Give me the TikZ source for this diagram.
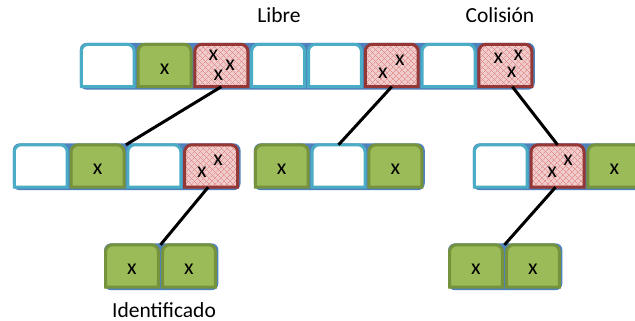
\documentclass[tikz,border=0pt]{standalone}
\usepackage{fontspec}
\setmainfont{Carlito}
\usetikzlibrary{calc,patterns.meta}
\definecolor{gfill}{HTML}{9BBB59}
\definecolor{gline}{HTML}{76923C}
\definecolor{wline}{HTML}{4BACC6}
\definecolor{rfill}{HTML}{F0CDCC}
\definecolor{rhatch}{HTML}{DC7674}
\definecolor{rline}{HTML}{953735}
\definecolor{barblue}{HTML}{4F81BD}
\pgfdeclarelayer{bg}\pgfdeclarelayer{cells}\pgfsetlayers{bg,cells,main}
\tikzset{
  cellnode/.style={rectangle, inner sep=0pt, minimum width=52.5pt, minimum height=42pt},
  xtxt/.style={font=\fontsize{22}{22}\selectfont, inner sep=0pt},
  lbl/.style={font=\fontsize{21.5}{24}\selectfont, anchor=base, inner sep=0pt},
  link/.style={line width=3pt, black},
  bar/.style={fill=barblue, rounded corners=7pt},
}
\newcommand\greencell[1]{\draw[line width=3pt, draw=gline, fill=gfill] (#1.south west) [rounded corners=7pt] -- (#1.north west) -- (#1.north east) [sharp corners] -- (#1.south east) -- cycle;}
\newcommand\whitecell[1]{\draw[line width=3pt, draw=wline, fill=white] (#1.south west) [rounded corners=7pt] -- (#1.north west) -- (#1.north east) [sharp corners] -- (#1.south east) -- cycle;}
\newcommand\redcell[1]{%
  \fill[rfill] (#1.south west) [rounded corners=7pt] -- (#1.north west) -- (#1.north east) [sharp corners] -- (#1.south east) -- cycle;
  \fill[pattern={Lines[angle=45,distance=4pt,line width=0.45pt]}, pattern color=rhatch] (#1.south west) [rounded corners=7pt] -- (#1.north west) -- (#1.north east) [sharp corners] -- (#1.south east) -- cycle;
  \fill[pattern={Lines[angle=-45,distance=4pt,line width=0.45pt]}, pattern color=rhatch] (#1.south west) [rounded corners=7pt] -- (#1.north west) -- (#1.north east) [sharp corners] -- (#1.south east) -- cycle;
  \draw[line width=3pt, draw=rline] (#1.south west) [rounded corners=7pt] -- (#1.north west) -- (#1.north east) [sharp corners] -- (#1.south east) -- cycle;}
\begin{document}
\begin{tikzpicture}[x=1pt, y=-1pt]
\clip (0,0) rectangle (635,321);
% cells (nodes)
\foreach \i in {1,...,8} \node[cellnode] (t\i) at ({107.75+56.8*(\i-1)},65.5) {};
\foreach \i in {1,...,4} \node[cellnode] (ml\i) at ({40.75+56.8*(\i-1)},166) {};
\foreach \i in {1,...,3} \node[cellnode] (mm\i) at ({281.75+56.8*(\i-1)},166) {};
\foreach \i in {1,...,3} \node[cellnode] (mr\i) at ({500.75+56.8*(\i-1)},166) {};
\foreach \i in {1,2} \node[cellnode] (bl\i) at ({132+57*(\i-1)},266) {};
\foreach \i in {1,2} \node[cellnode] (br\i) at ({476+57*(\i-1)},266) {};
% background and bars
\begin{pgfonlayer}{bg}
\fill[white] (0,0) rectangle (635,321);
\fill[bar] ($(t1.north west)+(-1.5,-1.5)$) rectangle ($(t8.south east)+(3,3)$);
\fill[bar] ($(ml1.north west)+(-1.5,-1.5)$) rectangle ($(ml4.south east)+(3,3)$);
\fill[bar] ($(mm1.north west)+(-1.5,-1.5)$) rectangle ($(mm3.south east)+(3,3)$);
\fill[bar] ($(mr1.north west)+(-1.5,-1.5)$) rectangle ($(mr3.south east)+(3,3)$);
\fill[bar] ($(bl1.north west)+(-1.5,-1.5)$) rectangle ($(bl2.south east)+(3,3)$);
\fill[bar] ($(br1.north west)+(-1.5,-1.5)$) rectangle ($(br2.south east)+(3,3)$);
\end{pgfonlayer}
% cell shapes
\begin{pgfonlayer}{cells}
\whitecell{t1}\greencell{t2}\redcell{t3}\whitecell{t4}\whitecell{t5}\redcell{t6}\whitecell{t7}\redcell{t8}
\whitecell{ml1}\greencell{ml2}\whitecell{ml3}\redcell{ml4}
\greencell{mm1}\whitecell{mm2}\greencell{mm3}
\whitecell{mr1}\redcell{mr2}\greencell{mr3}
\greencell{bl1}\greencell{bl2}
\greencell{br1}\greencell{br2}
\end{pgfonlayer}
% x marks
\node[xtxt] (xt2) at ([yshift=-3.5pt]t2.center) {x};
\node[xtxt] (xt3a) at ($(t3.center)+(-8,-10.5)$) {x};
\node[xtxt] (xt3b) at ($(t3.center)+(8.7,-0.5)$) {x};
\node[xtxt] (xt3c) at ($(t3.center)+(-3,9.5)$) {x};
\node[xtxt] (xt6a) at ($(t6.center)+(8.25,-5.5)$) {x};
\node[xtxt] (xt6b) at ($(t6.center)+(-8.75,7.5)$) {x};
\node[xtxt] (xt8a) at ($(t8.center)+(-7,-7.2)$) {x};
\node[xtxt] (xt8b) at ($(t8.center)+(13,-10.5)$) {x};
\node[xtxt] (xt8c) at ($(t8.center)+(6.3,7.2)$) {x};
\node[xtxt] (xml2) at ([yshift=-3.5pt]ml2.center) {x};
\node[xtxt] (xml4a) at ($(ml4.center)+(6.9,-6)$) {x};
\node[xtxt] (xml4b) at ($(ml4.center)+(-9.2,6)$) {x};
\node[xtxt] (xmm1) at ([yshift=-3.5pt]mm1.center) {x};
\node[xtxt] (xmm3) at ([yshift=-3.5pt]mm3.center) {x};
\node[xtxt] (xmr2a) at ($(mr2.center)+(10.5,-6)$) {x};
\node[xtxt] (xmr2b) at ($(mr2.center)+(-5.5,6)$) {x};
\node[xtxt] (xmr3) at ([yshift=-3.5pt]mr3.center) {x};
\node[xtxt] (xbl1) at ([yshift=-3.5pt]bl1.center) {x};
\node[xtxt] (xbl2) at ([yshift=-3.5pt]bl2.center) {x};
\node[xtxt] (xbr1) at ([yshift=-3.5pt]br1.center) {x};
\node[xtxt] (xbr2) at ([yshift=-3.5pt]br2.center) {x};
% connectors
\draw[link] (t3.south) -- ($(ml2.north east)!0.5!(ml3.north west)$);
\draw[link] (t6.south) -- (mm2.north);
\draw[link] ([xshift=7pt]t8.south) -- (mr2.north);
\draw[link] ([xshift=-3pt]ml4.south) -- ($(bl1.north east)!0.5!(bl2.north west)$);
\draw[link] ([xshift=-2pt]mr2.south) -- ($(br1.north east)!0.5!(br2.north west)$);
% labels
\node[lbl] (libre) at (279,22.5) {Libre};
\node[lbl] (colision) at (500,22.5) {Colisión};
\node[lbl] (ident) at (164,317) {Identificado};
\end{tikzpicture}
\end{document}
